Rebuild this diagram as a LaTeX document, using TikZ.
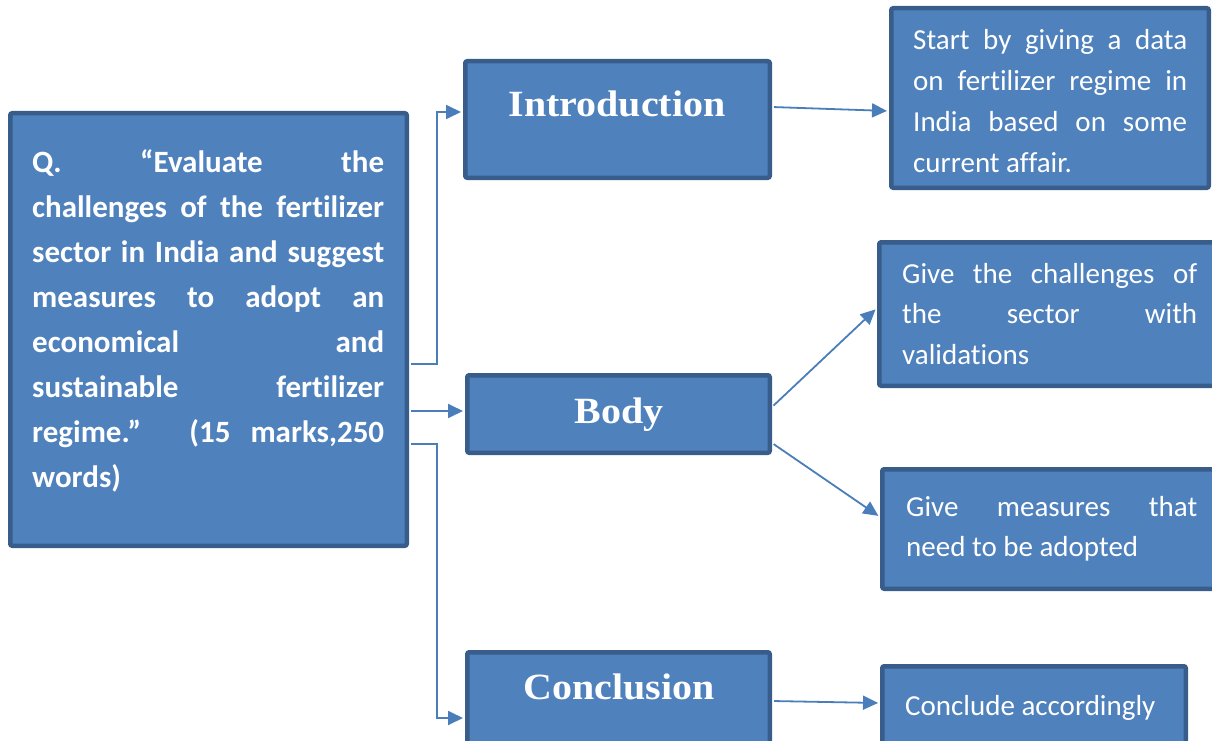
\documentclass[tikz,border=0pt]{standalone}
\usepackage{fontspec}
\setmainfont[Ligatures={NoCommon}]{Carlito}
\newfontfamily\headfont{Liberation Serif}
\usetikzlibrary{arrows.meta}
\definecolor{boxfill}{HTML}{4F81BD}
\definecolor{boxline}{HTML}{385D8A}
\definecolor{linkblue}{HTML}{4A7EBB}
% one justified line, spaces stretched to the full width
\newcommand{\jline}[2]{\makebox[#1][s]{#2}}
\begin{document}
\begin{tikzpicture}[x=1pt,y=-1pt,
  box/.style={draw=boxline, fill=boxfill, line width=4.5pt, rounded corners=2pt, inner sep=0pt},
  link/.style={draw=linkblue, line width=1.8pt, shorten <=2pt, shorten >=2pt,
    -{Triangle[length=15pt,width=14pt]}},
  qtext/.style={text=white, inner sep=0pt, anchor=base west,
    font=\bfseries\fontsize{31}{45}\selectfont},
  btext/.style={text=white, inner sep=0pt, anchor=base west,
    font=\fontsize{29}{40.7}\selectfont},
  head/.style={text=white, inner sep=0pt, anchor=base,
    font=\headfont\bfseries\fontsize{37}{40}\selectfont}]
\useasboundingbox (0,0) rectangle (1212,741);

% boxes
\node[box, minimum width=396.5pt, minimum height=432.5pt] (q) at (208.5,329.5) {};
\node[box, minimum width=304.5pt, minimum height=116.5pt] (intro) at (617.5,119.5) {};
\node[box, minimum width=302.5pt, minimum height=77.5pt] (body) at (618.5,414) {};
\node[box, minimum width=302.5pt, minimum height=117.5pt] (concl) at (618.5,711) {};
\node[box, minimum width=317.5pt, minimum height=179.5pt] (start) at (1050,98) {};
\node[box, minimum width=340.5pt, minimum height=143.5pt] (chal) at (1049.5,314) {};
\node[box, minimum width=337.5pt, minimum height=119.5pt] (meas) at (1051,529) {};
\node[box, minimum width=303.5pt, minimum height=103.5pt] (fin) at (1034,718) {};

% question
\node[qtext] (qt) at (32,172) {\parbox[t]{352pt}{%
  \jline{352pt}{Q. “Evaluate the}\\
  \jline{352pt}{challenges of the fertilizer}\\
  \jline{352pt}{sector in India and suggest}\\
  \jline{352pt}{measures to adopt an}\\
  \jline{352pt}{economical and}\\
  \jline{352pt}{sustainable fertilizer}\\
  \jline{352pt}{regime.” (15 marks,250}\\
  words)}};

% headings
\node[head] (introt) at (617,117) {\scalebox{1.08}[1]{Introduction}};
\node[head] (bodyt) at (619,423) {\scalebox{1.08}[1]{Body}};
\node[head] (conclt) at (619,699) {\scalebox{1.08}[1]{Conclusion}};

% notes
\node[btext] (startt) at (913,50) {\parbox[t]{274pt}{%
  \jline{274pt}{Start by giving a data}\\
  \jline{274pt}{on fertilizer regime in}\\
  \jline{274pt}{India based on some}\\
  current affair.}};
\node[btext] (chalt) at (902,283) {\parbox[t]{295pt}{%
  \jline{295pt}{Give the challenges of}\\
  \jline{295pt}{the sector with}\\
  validations}};
\node[btext] (meast) at (906,516) {\parbox[t]{291pt}{%
  \jline{291pt}{Give measures that}\\
  need to be adopted}};
\node[btext] (fint) at (905,715) {Conclude accordingly};

% connectors
\draw[link] (q.east |- 0,364) -- (437,364) |- (intro.west |- 0,112);
\draw[link] (q.east |- 0,411) -- (body.west |- 0,411);
\draw[link] (q.east |- 0,444) -- (437,444) |- (concl.west |- 0,718);
\draw[link] (intro.east |- 0,107) -- (start.west |- 0,111);
\draw[link] (body.east |- 0,407) -- (chal.west |- 0,308);
\draw[link] (body.east |- 0,443) -- (meas.west |- 0,517);
\draw[link] (concl.east |- 0,701) -- (fin.west |- 0,703);
\end{tikzpicture}
\end{document}
